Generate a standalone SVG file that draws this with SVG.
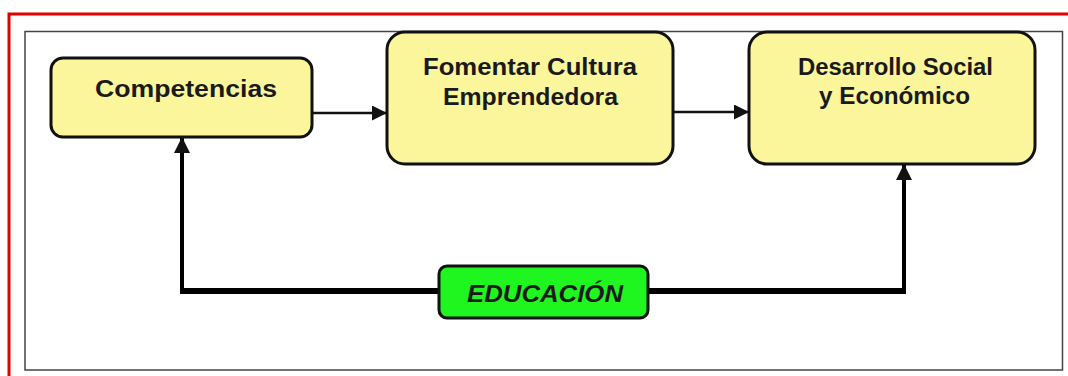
<svg xmlns="http://www.w3.org/2000/svg" width="1068" height="376" viewBox="0 0 1068 376">
<style>
.box{fill:#fbf69b;stroke:#111;stroke-width:3}
.lbl{font-family:"Liberation Sans",Arial,sans-serif;font-weight:bold;font-size:23px;fill:#1a1a1a;text-anchor:middle}
.thin{fill:none;stroke:#111;stroke-width:2.5}
</style>
<defs>
<marker id="ah" viewBox="0 0 10 10" refX="10" refY="5" markerWidth="6" markerHeight="6" markerUnits="strokeWidth" orient="auto">
<path d="M0,0 L10,5 L0,10 Z" fill="#111"/>
</marker>
<marker id="ahb" viewBox="0 0 10 10" refX="10" refY="5" markerWidth="4" markerHeight="4" markerUnits="strokeWidth" orient="auto">
<path d="M0,0 L10,5 L0,10 Z" fill="#111"/>
</marker>
</defs>
<rect x="0" y="0" width="1068" height="376" fill="#fff"/>
<rect x="9" y="14" width="1070" height="380" fill="none" stroke="#e00000" stroke-width="3"/>
<rect x="25" y="31.5" width="1037.5" height="338.5" fill="none" stroke="#444" stroke-width="1.5"/>
<g id="connectors">
<line class="thin" x1="312" y1="113" x2="387" y2="113" marker-end="url(#ah)"/>
<line class="thin" x1="673" y1="112" x2="749" y2="112" marker-end="url(#ah)"/>
<polyline points="182,291 904,291" fill="none" stroke="#000" stroke-width="6"/>
<line x1="182" y1="294" x2="182" y2="137" stroke="#000" stroke-width="4" marker-end="url(#ahb)"/>
<line x1="904" y1="294" x2="904" y2="164" stroke="#000" stroke-width="4" marker-end="url(#ahb)"/>
</g>
<g id="competencias">
<rect class="box" x="51" y="58" width="261" height="79" rx="12"/>
<text class="lbl" x="186" y="97" textLength="182" lengthAdjust="spacingAndGlyphs">Competencias</text>
</g>
<g id="fomentar">
<rect class="box" x="387" y="32" width="286" height="132" rx="18"/>
<text class="lbl" x="530" y="75" textLength="214" lengthAdjust="spacingAndGlyphs">Fomentar Cultura</text>
<text class="lbl" x="530.5" y="105" textLength="175" lengthAdjust="spacingAndGlyphs">Emprendedora</text>
</g>
<g id="desarrollo">
<rect class="box" x="749" y="32" width="286" height="132" rx="18"/>
<text class="lbl" x="895.5" y="75" textLength="195" lengthAdjust="spacingAndGlyphs">Desarrollo Social</text>
<text class="lbl" x="894.5" y="104" textLength="151" lengthAdjust="spacingAndGlyphs">y Económico</text>
</g>
<g id="educacion">
<rect x="439" y="266" width="209" height="52" rx="8" fill="#1ff51f" stroke="#111" stroke-width="3"/>
<text class="lbl" x="545" y="302" font-style="italic" textLength="156" lengthAdjust="spacingAndGlyphs">EDUCACIÓN</text>
</g>
</svg>
